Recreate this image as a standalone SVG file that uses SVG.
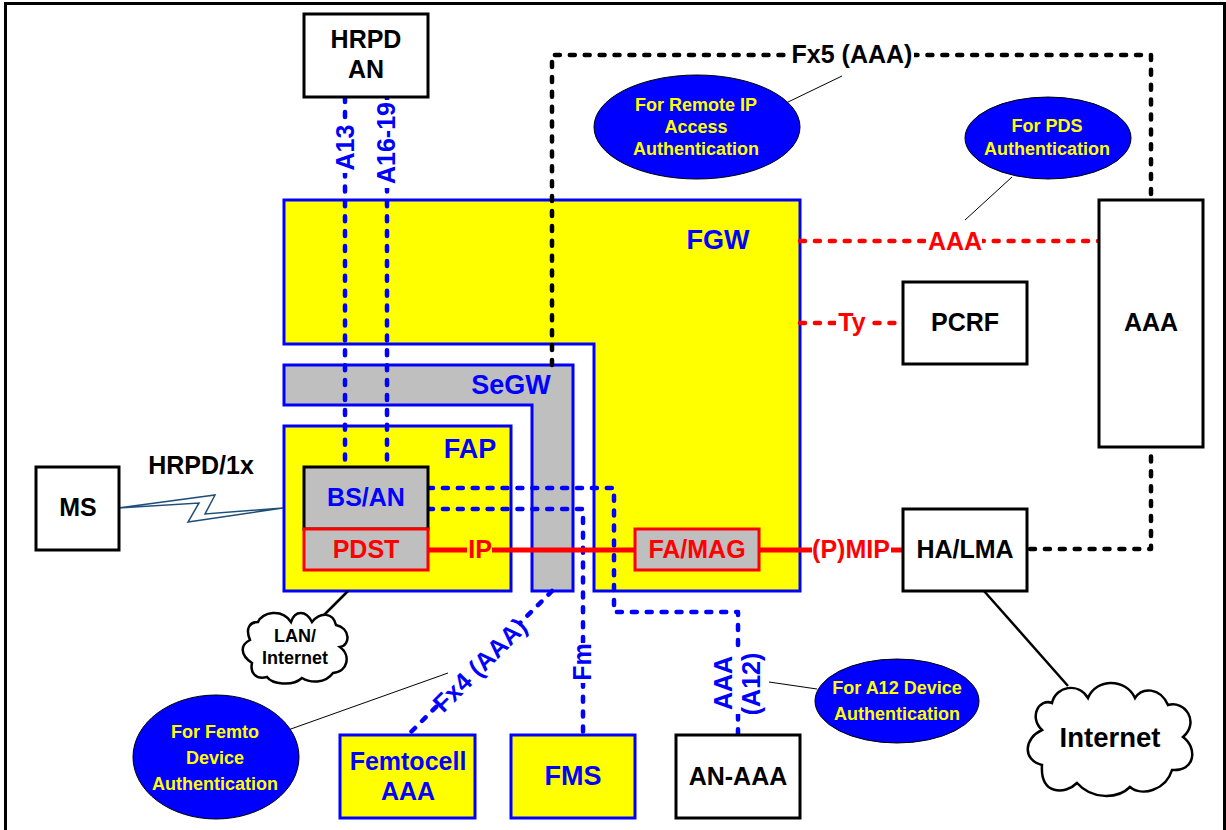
<svg xmlns="http://www.w3.org/2000/svg" width="1226" height="830" viewBox="0 0 1226 830">
<style>
text{font-family:"Liberation Sans",Arial,sans-serif;font-weight:bold;text-anchor:middle}
.box{fill:#fff;stroke:#000;stroke-width:3}
.yb{fill:#ff0;stroke:#00f;stroke-width:3}
.gb{fill:#bfbfbf;stroke:#00f;stroke-width:3}
.gr{fill:#bfbfbf;stroke:#f00;stroke-width:3}
.ell{fill:#00f;stroke:#000;stroke-width:1}
.cloud{fill:#fff;stroke:#000;stroke-width:2.5}
.k{fill:#000;font-size:25px}
.b{fill:#00f;font-size:25px}
.r{fill:#f00;font-size:25px}
.y{fill:#ff0;font-size:18px}
.dk,.db,.dr{fill:none;stroke-width:4.5;stroke-dasharray:5 9.900;stroke-linecap:round;stroke-linejoin:round}
.dk{stroke:#000}
.db{stroke:#00f}
.dr{stroke:#f00}
.thin{fill:none;stroke:#000;stroke-width:1}
.line{fill:none;stroke:#000;stroke-width:2.5}
.sr{fill:none;stroke:#f00;stroke-width:5}
.bg{fill:#fff}
</style>
<rect x="5.500" y="3.500" width="1219" height="840" fill="#fff" stroke="#000" stroke-width="3"/>
<g id="fgw"><path class="yb" d="M284 200H800V591H594V344H284Z"/><text class="b" x="718" y="249" style="font-size:27px">FGW</text></g>
<g id="segw"><path class="gb" d="M284 365H573V591H532V405H284Z"/><text class="b" x="511" y="394" style="font-size:27px">SeGW</text></g>
<g id="fap"><rect class="yb" x="284" y="426" width="227" height="165"/><text class="b" x="470" y="458" style="font-size:27px">FAP</text></g>
<g id="connectors">
<path class="dk" d="M552 365V55H1151V200"/>
<path class="dk" d="M1030 549H1151V447"/>
<path class="db" d="M345 97V467"/>
<path class="db" d="M387 97V467"/>
<path class="db" d="M428 488H614V612H738V735"/>
<path class="db" d="M428 509H583V735"/>
<path class="db" d="M552 591L408 735"/>
<path class="dr" d="M800 241H1099"/>
<path class="dr" d="M800 323H903"/>
<path class="sr" d="M428 550H635M759 550H903"/>
<path class="line" d="M984 591L1068 686"/>
<path class="line" d="M348 591L323 616"/>
<path class="thin" d="M786 103L842 76"/>
<path class="thin" d="M965 220L1012 177"/>
<path class="thin" d="M288 730L448 673"/>
<path class="thin" d="M769 682L817 689"/>
<path d="M118 508L215 495L205 514L283 508L188 522L199 503Z" fill="#fff" stroke="#1f4e79" stroke-width="1.500" stroke-linejoin="miter"/>
</g>
<g id="ms"><rect class="box" x="36" y="467" width="83" height="83"/><text class="k" x="78" y="516">MS</text></g>
<g id="hrpd-label"><text class="k" x="201" y="474">HRPD/1x</text></g>
<g id="hrpd-an"><rect class="box" x="304" y="14" width="124" height="83"/><text class="k" x="366" y="48">HRPD</text><text class="k" x="366" y="78">AN</text></g>
<g id="bsan"><rect x="304" y="467" width="124" height="62" fill="#bfbfbf" stroke="#000" stroke-width="3"/><text class="b" x="366" y="506">BS/AN</text></g>
<g id="pdst"><rect class="gr" x="304" y="529" width="124" height="41"/><text class="r" x="366" y="558">PDST</text></g>
<g id="famag"><rect class="gr" x="635" y="529" width="124" height="41"/><text class="r" x="697" y="558">FA/MAG</text></g>
<g id="pcrf"><rect class="box" x="903" y="282" width="124" height="82"/><text class="k" x="965" y="331">PCRF</text></g>
<g id="aaa"><rect class="box" x="1099" y="200" width="104" height="247"/><text class="k" x="1151" y="331">AAA</text></g>
<g id="halma"><rect class="box" x="903" y="509" width="124" height="82"/><text class="k" x="965" y="558">HA/LMA</text></g>
<g id="femto-aaa"><rect class="yb" x="340" y="735" width="135" height="83"/><text class="b" x="408" y="770">Femtocell</text><text class="b" x="408" y="800">AAA</text></g>
<g id="fms"><rect class="yb" x="511" y="735" width="124" height="83"/><text class="b" x="573" y="785" style="font-size:27px">FMS</text></g>
<g id="an-aaa"><rect class="box" x="676" y="735" width="124" height="83"/><text class="k" x="738" y="785">AN-AAA</text></g>
<g id="lan-cloud"><path class="cloud" d="M258 622C262 612 282 608 291 622C295 610 306 610 312 622C320 612 333 612 336 625C350 628 351 645 340 647C351 655 348 672 333 673C325 684 310 683 302 678C292 687 272 684 267 677C255 680 250 672 252 663C240 655 240 645 250 640C245 628 250 622 258 622Z"/><text class="k" x="295" y="642" style="font-size:18px">LAN/</text><text class="k" x="295" y="664" style="font-size:18px">Internet</text></g>
<g id="internet-cloud"><path class="cloud" d="M1052 703C1056 686 1078 682 1088 698C1096 678 1126 678 1135 698C1142 687 1160 687 1168 705C1185 700 1200 722 1183 737C1198 748 1195 772 1172 770C1166 790 1142 797 1130 787C1118 799 1092 800 1077 783C1065 795 1040 795 1042 765C1022 760 1024 738 1042 730C1028 716 1040 698 1052 703Z"/><text class="k" x="1110" y="747" style="font-size:27.500px">Internet</text></g>
<g id="e-remote"><ellipse class="ell" cx="697" cy="127" rx="103" ry="52"/><text class="y" x="696" y="110.500">For Remote IP</text><text class="y" x="696" y="133">Access</text><text class="y" x="696" y="155">Authentication</text></g>
<g id="e-pds"><ellipse class="ell" cx="1048" cy="138" rx="83" ry="41"/><text class="y" x="1047" y="132">For PDS</text><text class="y" x="1047" y="155">Authentication</text></g>
<g id="e-a12"><ellipse class="ell" cx="897" cy="701" rx="82" ry="42"/><text class="y" x="897" y="694">For A12 Device</text><text class="y" x="897" y="720">Authentication</text></g>
<g id="e-femto"><ellipse class="ell" cx="216" cy="757" rx="83" ry="62"/><text class="y" x="215" y="738">For Femto</text><text class="y" x="215" y="764">Device</text><text class="y" x="215" y="790">Authentication</text></g>
<g id="labels">
<rect class="bg" x="789" y="42" width="125" height="26"/><text class="k" x="852" y="63">Fx5 (AAA)</text>
<rect x="926" y="230" width="56" height="22" fill="#fff"/><text class="r" x="955" y="250">AAA</text>
<rect x="836" y="312" width="34" height="22" fill="#fff"/><text class="r" x="852" y="331">Ty</text>
<rect x="467" y="540" width="25" height="20" fill="#ff0"/><text class="r" x="480" y="558">IP</text>
<rect x="812" y="538" width="79" height="24" fill="#fff"/><text class="r" x="851" y="558">(P)MIP</text>
<rect x="334" y="123" width="22" height="50" fill="#fff"/><text class="b" transform="translate(354 147.500) rotate(-90)">A13</text>
<rect x="376" y="100" width="22" height="88" fill="#fff"/><text class="b" transform="translate(395 143) rotate(-90)">A16-19</text>
<rect x="572" y="643" width="22" height="40" fill="#fff"/><text class="b" transform="translate(591 662) rotate(-90)">Fm</text>
<rect x="712" y="652" width="54" height="62" fill="#fff"/><text class="b" transform="translate(732 683) rotate(-90)">AAA</text><text class="b" transform="translate(760 684) rotate(-90)">(A12)</text>
<rect x="-55" y="-13" width="110" height="26" fill="#fff" transform="translate(480 664) rotate(-45)"/><text class="b" transform="translate(486 671) rotate(-45)">Fx4 (AAA)</text>
</g>
</svg>
